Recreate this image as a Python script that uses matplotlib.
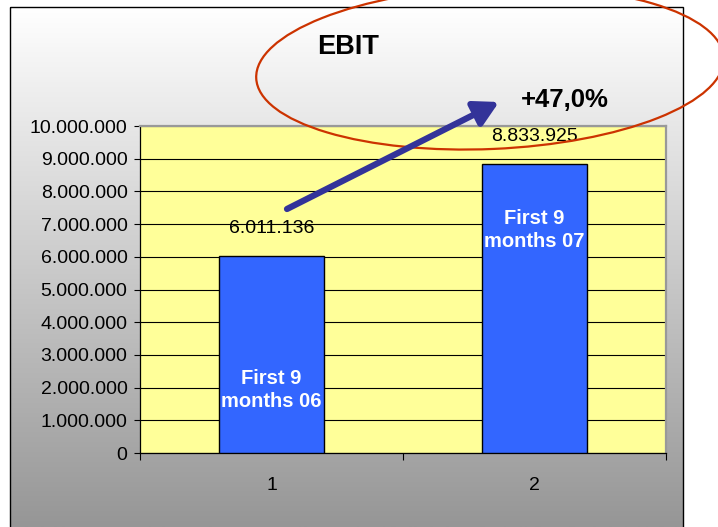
import matplotlib
matplotlib.use('Agg')
import matplotlib.pyplot as plt
import numpy as np
from matplotlib.patches import Ellipse, Rectangle
from matplotlib.colors import LinearSegmentedColormap
from matplotlib.ticker import FuncFormatter, FixedLocator

# ---- data ----
categories = ['1', '2']
values = [6011136, 8833925]
value_labels = ['6.011.136', '8.833.925']
bar_texts = ['First 9\nmonths 06', 'First 9\nmonths 07']
title = 'EBIT'
growth_label = '+47,0%'
y_ticks = list(range(0, 10000001, 1000000))

plt.rcParams['font.family'] = ['Liberation Sans', 'DejaVu Sans']

W, H = 718, 527
fig = plt.figure(figsize=(W / 100, H / 100), dpi=100)
fig.patch.set_facecolor('white')

# ---- background gradient chart area ----
bg = fig.add_axes([0, 0, 1, 1], zorder=0)
bg.set_xlim(0, W)
bg.set_ylim(H, 0)
bg.axis('off')
grad = np.linspace(0, 1, 256).reshape(-1, 1)
cmap = LinearSegmentedColormap.from_list('g', ['#ffffff', '#969696'])
bg.imshow(grad, extent=(10, 683, 527, 7), cmap=cmap, aspect='auto', interpolation='bilinear')
bg.add_patch(Rectangle((10, 7), 673, 530, fill=False, edgecolor='black', lw=1.0))

# ---- main axes ----
ax = fig.add_axes([140 / W, (H - 453) / H, 526 / W, 327 / H], zorder=1)
ax.set_facecolor('#FFFF99')
x = np.arange(1, len(categories) + 1)
ax.bar(x, values, width=0.4, color='#3366FF', edgecolor='black', linewidth=1.0, zorder=3)
ax.set_xlim(0.5, len(categories) + 0.5)
ax.set_ylim(0, 10000000)
ax.yaxis.set_major_locator(FixedLocator(y_ticks))
ax.yaxis.set_major_formatter(FuncFormatter(lambda v, p: f'{int(v):,}'.replace(',', '.')))
ax.grid(axis='y', color='black', linewidth=0.8, zorder=1)
ax.set_axisbelow(True)

ax.xaxis.set_major_locator(FixedLocator([0.5, 1.5, 2.5]))
ax.xaxis.set_major_formatter(FuncFormatter(lambda v, p: ''))
ax.xaxis.set_minor_locator(FixedLocator(list(x)))
ax.xaxis.set_minor_formatter(FuncFormatter(lambda v, p: categories[int(round(v)) - 1]))
ax.tick_params(axis='x', which='major', length=5, width=0.8, direction='out')
ax.tick_params(axis='x', which='minor', length=0, pad=17, labelsize=14)
ax.tick_params(axis='y', length=4, width=0.8, direction='out', pad=5, labelsize=14)

for s in ['left', 'bottom']:
    ax.spines[s].set_color('black')
    ax.spines[s].set_linewidth(0.9)
for s in ['top', 'right']:
    ax.spines[s].set_color('#999999')
    ax.spines[s].set_linewidth(1.6)

for xi, v, lab in zip(x, values, value_labels):
    ax.annotate(lab, (xi, v), xytext=(0, 20), textcoords='offset points',
                ha='center', va='center', fontsize=14, color='black')

inner_label_y = [1930000, 6820000]
for xi, yi, t in zip(x, inner_label_y, bar_texts):
    ax.text(xi, yi, t, ha='center', va='center', color='white', fontsize=14.5,
            fontweight='bold', linespacing=1.3, zorder=4)

# ---- overlay: title, ellipse, arrow ----
ov = fig.add_axes([0, 0, 1, 1], zorder=2)
ov.set_xlim(0, W)
ov.set_ylim(0, H)
ov.axis('off')
ov.patch.set_alpha(0)

ov.add_patch(Ellipse((490, H - 68), 468, 162, angle=2.5, fill=False,
                     edgecolor='#CC3300', lw=1.6, clip_on=False))
ov.annotate('', xy=(499, H - 102), xytext=(287, H - 209),
            arrowprops=dict(arrowstyle='-|>,head_length=0.4,head_width=0.22',
                            lw=4.5, color='#333399', mutation_scale=36,
                            shrinkA=0, shrinkB=0))
ov.text(348, H - 47, title, ha='center', va='center', fontsize=19.5, fontweight='bold')
ov.text(565, H - 100, growth_label, ha='center', va='center', fontsize=18.5, fontweight='bold')

fig.savefig('out.png', dpi=100)
